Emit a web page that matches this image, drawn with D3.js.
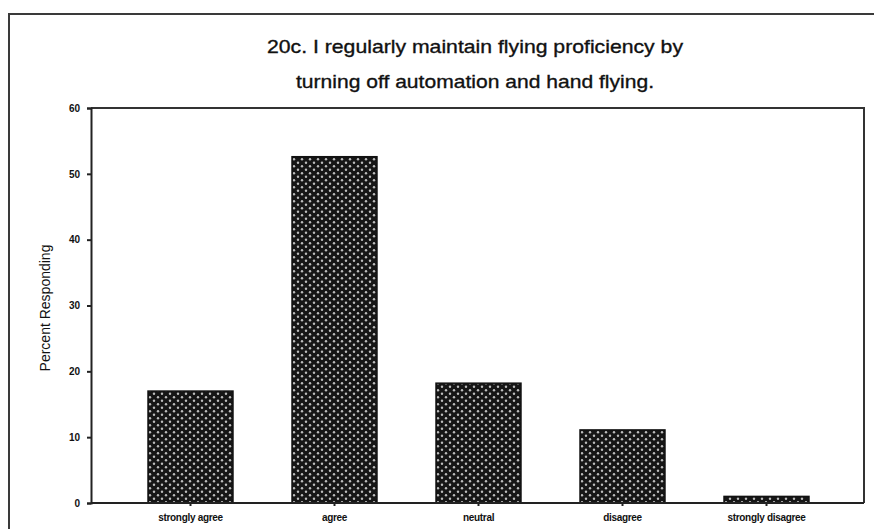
<!DOCTYPE html>
<html>
<head>
<meta charset="utf-8">
<script src="https://cdn.jsdelivr.net/npm/d3@7"></script>
<style>
  html, body { margin: 0; padding: 0; background: #fff; }
  svg { display: block; }
  text { font-family: "Liberation Sans", Arial, sans-serif; fill: #111; }
</style>
</head>
<body>
<svg id="chart" width="874" height="529"></svg>
<script>
// ---- data ----
const categories = ["strongly agree", "agree", "neutral", "disagree", "strongly disagree"];
const percents = [17.0, 52.6, 18.2, 11.1, 1.0];
const yTicks = [0, 10, 20, 30, 40, 50, 60];
const titleLines = ["20c. I regularly maintain flying proficiency by", "turning off automation and hand flying."];
const titleWidths = [416, 358];
const yLabel = "Percent Responding";

// ---- layout ----
const W = 874, H = 529;
const plot = { left: 91, top: 108, right: 864, bottom: 503 };

const svg = d3.select("#chart");

// pattern for bars
const defs = svg.append("defs");
const pat = defs.append("pattern")
  .attr("id", "dots").attr("patternUnits", "userSpaceOnUse")
  .attr("width", 8).attr("height", 7);
pat.append("rect").attr("width", 8).attr("height", 7).attr("fill", "#161616");
pat.append("circle").attr("cx", 2).attr("cy", 1.75).attr("r", 1.2).attr("fill", "#bdbdbd");
pat.append("circle").attr("cx", 6).attr("cy", 5.25).attr("r", 1.2).attr("fill", "#bdbdbd");

// outer frame (top and left visible)
svg.append("path")
  .attr("d", `M9,${H} L9,14 L${W},14`)
  .attr("fill", "none").attr("stroke", "#3a3a3a").attr("stroke-width", 2);

// title
svg.selectAll("text.title").data(titleLines).enter().append("text")
  .attr("class", "title")
  .attr("x", 475).attr("y", (d, i) => 53 + i * 35)
  .attr("text-anchor", "middle")
  .attr("font-size", 19)
  .attr("stroke", "#111").attr("stroke-width", 0.35)
  .attr("textLength", (d, i) => titleWidths[i])
  .attr("lengthAdjust", "spacingAndGlyphs")
  .text(d => d);

// scales
const y = d3.scaleLinear().domain([0, 60]).range([plot.bottom, plot.top]);
const x = d3.scaleBand().domain(categories)
  .range([118.5, 838.5]).paddingInner(0.41).paddingOuter(0.205);

// plot frame top/right
svg.append("path")
  .attr("d", `M${plot.left},${plot.top} L${plot.right},${plot.top} L${plot.right},${plot.bottom}`)
  .attr("fill", "none").attr("stroke", "#333").attr("stroke-width", 2);

// bars
svg.selectAll("rect.bar").data(percents).enter().append("rect")
  .attr("class", "bar")
  .attr("x", (d, i) => x(categories[i]))
  .attr("width", x.bandwidth())
  .attr("y", d => y(d))
  .attr("height", d => y(0) - y(d))
  .attr("fill", "url(#dots)")
  .attr("stroke", "#111").attr("stroke-width", 1.5);

// y axis
const yAxis = svg.append("g")
  .attr("transform", `translate(${plot.left},0)`)
  .call(d3.axisLeft(y).tickValues(yTicks).tickSize(4).tickPadding(7));
yAxis.select(".domain").attr("stroke", "#222").attr("stroke-width", 2);
yAxis.selectAll(".tick line").attr("stroke", "#222").attr("stroke-width", 2);
yAxis.selectAll(".tick text")
  .attr("font-size", 10).attr("font-weight", "bold")
  .attr("font-family", "Liberation Sans, Arial, sans-serif").attr("fill", "#111");

// x axis
const xAxis = svg.append("g")
  .attr("transform", `translate(0,${plot.bottom})`)
  .call(d3.axisBottom(x).tickSize(3).tickPadding(8).tickSizeOuter(0));
xAxis.select(".domain").attr("d", `M${plot.left},0H${plot.right}`)
  .attr("stroke", "#222").attr("stroke-width", 2);
xAxis.selectAll(".tick line").attr("stroke", "#222").attr("stroke-width", 2);
xAxis.selectAll(".tick text")
  .attr("font-size", 10).attr("font-weight", "bold")
  .attr("font-family", "Liberation Sans, Arial, sans-serif").attr("fill", "#111")
  .attr("letter-spacing", -0.3);

// y label
svg.append("text")
  .attr("transform", `translate(50,308) rotate(-90)`)
  .attr("text-anchor", "middle")
  .attr("font-size", 14)
  .text(yLabel);
</script>
</body>
</html>
